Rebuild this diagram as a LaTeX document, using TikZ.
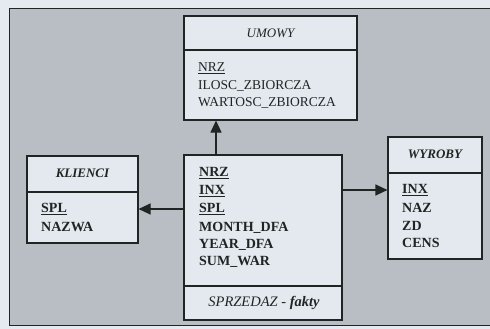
\documentclass[tikz,border=0pt]{standalone}
\usepackage{fontspec}
\setmainfont{Liberation Serif}
\usetikzlibrary{arrows.meta,positioning,calc}
\definecolor{paper}{HTML}{E4EAF0}
\definecolor{panel}{HTML}{B9BDC4}
\definecolor{boxfill}{HTML}{E3E9EE}
\definecolor{ink}{HTML}{1E2624}

\begin{document}
\begin{tikzpicture}[
    x=1pt, y=-1pt,
    entity/.style={draw=ink, line width=1.1pt, fill=boxfill, inner sep=0pt},
    sepline/.style={draw=ink, line width=1.1pt},
    title/.style={font=\fontsize{13}{15}\selectfont\itshape, text=ink},
    btitle/.style={font=\fontsize{13}{15}\selectfont\bfseries\itshape, text=ink},
    field/.style={anchor=west, font=\fontsize{13.5}{16}\selectfont, text=ink, inner sep=0pt},
    bfield/.style={field, font=\fontsize{14}{16}\selectfont\bfseries},
    arrow/.style={-{Triangle[length=12pt, width=11pt]}, line width=1.1pt, draw=ink, fill=ink}
]
\useasboundingbox (0,0) rectangle (490,329);
\fill[paper] (0,0) rectangle (490,329);
\filldraw[fill=panel, draw=ink, line width=1pt] (9.5,8.5) rectangle (495,325);

% UMOWY
\node[entity, minimum width=173pt, minimum height=104pt] (umowy) at (270.5,68) {};
\draw[sepline] (184,50) -- (357,50);
\node[title] (umowyt) at (270.5,33) {UMOWY};
\node[field] (u1) at (198,68) {\underline{NRZ}};
\node[field] (u2) at (198,86) {ILOSC\_ZBIORCZA};
\node[field] (u3) at (198,103) {WARTOSC\_ZBIORCZA};

% KLIENCI
\node[entity, minimum width=111pt, minimum height=87pt] (klienci) at (82.5,199.5) {};
\draw[sepline] (27,192) -- (138,192);
\node[btitle] (kliencit) at (82.5,173) {KLIENCI};
\node[bfield] (k1) at (41,209) {\underline{SPL}};
\node[bfield] (k2) at (41,227) {NAZWA};

% SPRZEDAZ - fakty
\node[entity, minimum width=158pt, minimum height=165pt] (sprzedaz) at (263,237.5) {};
\draw[sepline] (184,286) -- (342,286);
\node[title, font=\fontsize{14.5}{16}\selectfont\itshape] (sprzedazt) at (264,303) {SPRZEDAZ - \textbf{fakty}};
\node[bfield] (s1) at (199,173) {\underline{NRZ}};
\node[bfield] (s2) at (199,191) {\underline{INX}};
\node[bfield] (s3) at (199,209) {\underline{SPL}};
\node[bfield] (s4) at (199,228) {MONTH\_DFA};
\node[bfield] (s5) at (199,245) {YEAR\_DFA};
\node[bfield] (s6) at (199,262) {SUM\_WAR};

% WYROBY
\node[entity, minimum width=94pt, minimum height=122pt] (wyroby) at (435,198) {};
\draw[sepline] (388,173) -- (482,173);
\node[btitle] (wyrobyt) at (435,154) {WYROBY};
\node[bfield] (w1) at (402,190) {\underline{INX}};
\node[bfield] (w2) at (402,208) {NAZ};
\node[bfield] (w3) at (402,226) {ZD};
\node[bfield] (w4) at (402,243) {CENS};

\coordinate (stop) at (216,155);
\draw[arrow] (stop) -- (stop |- umowy.south);
\draw[arrow] (sprzedaz.west |- s3) -- (klienci.east |- s3);
\draw[arrow] (sprzedaz.east |- w1) -- (wyroby.west |- w1);
\end{tikzpicture}
\end{document}
